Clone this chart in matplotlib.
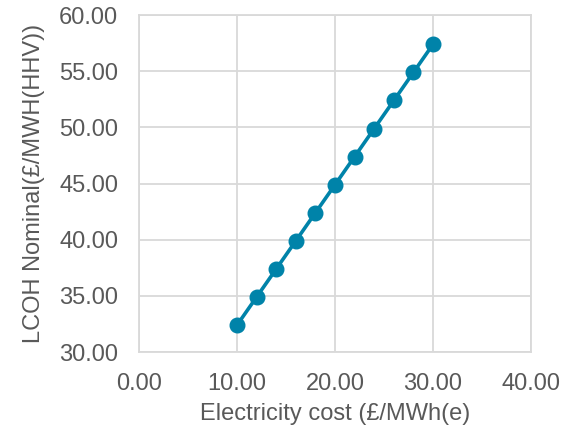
import matplotlib
matplotlib.use("Agg")
import matplotlib.pyplot as plt
from matplotlib.ticker import FormatStrFormatter

electricity_cost = [10, 12, 14, 16, 18, 20, 22, 24, 26, 28, 30]
lcoh_nominal = [32.40, 34.90, 37.40, 39.90, 42.40, 44.90, 47.40, 49.90, 52.40, 54.90, 57.40]

x_ticks = [0, 10, 20, 30, 40]
y_ticks = [30, 35, 40, 45, 50, 55, 60]

plt.rcParams['font.family'] = ['Liberation Sans', 'DejaVu Sans']
text_color = '#595959'
grid_color = '#d9d9d9'
line_color = '#0083a9'

fig = plt.figure(figsize=(5.64, 4.33), dpi=100)
ax = fig.add_axes([0.2465, 0.187, 0.695, 0.778])

ax.plot(electricity_cost, lcoh_nominal, color=line_color, linewidth=2.6,
        marker='o', markersize=10.5, zorder=3)

ax.set_xlim(0, 40)
ax.set_ylim(30, 60)
ax.set_xticks(x_ticks)
ax.set_yticks(y_ticks)
ax.xaxis.set_major_formatter(FormatStrFormatter('%.2f'))
ax.yaxis.set_major_formatter(FormatStrFormatter('%.2f'))

ax.grid(True, color=grid_color, linewidth=1.3)
ax.set_axisbelow(True)
for side, sp in ax.spines.items():
    sp.set_color(grid_color)
    sp.set_linewidth(1.3)

ax.tick_params(length=0, labelsize=17, colors=text_color)
ax.tick_params(axis='y', pad=15)
ax.tick_params(axis='x', pad=15)
ax.set_xlabel('Electricity cost (£/MWh(e)', fontsize=17, color=text_color, labelpad=6)
ax.set_ylabel('LCOH Nominal(£/MWH(HHV))', fontsize=17, color=text_color, labelpad=10)

fig.savefig('out.png', dpi=100)
